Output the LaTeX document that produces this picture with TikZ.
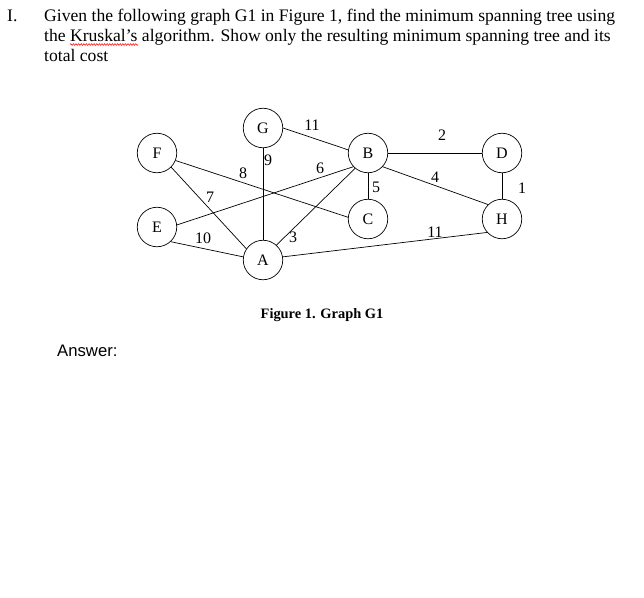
\documentclass[tikz,border=0pt]{standalone}
\usepackage{fontspec}
\setmainfont{Liberation Serif}
\newfontfamily\arialfont{Liberation Sans}
\usetikzlibrary{decorations.pathmorphing}
\begin{document}
\begin{tikzpicture}[x=1pt,y=-1pt,
  vtx/.style={draw,circle,minimum size=39.5pt,inner sep=0pt,line width=0.7pt,font=\fontsize{16}{16}\selectfont},
  lbl/.style={inner sep=0pt,font=\fontsize{16}{16}\selectfont},
  edge/.style={line width=0.7pt},
  para/.style={anchor=base west,inner sep=0pt,font=\fontsize{17.6}{20}\selectfont}]
\useasboundingbox (0,0) rectangle (644,597);
% question text
\node[para] (num) at (7,21) {I.};
\node[para] (l1) at (44,21) {Given the following graph G1 in Figure 1, find the minimum spanning tree using};
\node[para] (l2) at (44,41.7) {the Kruskal’s algorithm. Show only the resulting minimum spanning tree and its};
\node[para] (l3) at (44,61.7) {total cost};
\draw[red,line width=0.5pt,decorate,decoration={snake,amplitude=0.9pt,segment length=2.6pt}] (70,44.5) -- (138,44.5);
% vertices
\node[vtx] (G) at (263,128) {G};
\node[vtx] (F) at (157,153) {F};
\node[vtx] (B) at (368,153) {B};
\node[vtx] (E) at (157,227) {E};
\node[vtx] (C) at (368,219) {C};
\node[vtx] (A) at (263,260) {A};
\node[vtx] (D) at (502,153) {D};
\node[vtx] (H) at (502,219) {H};
% edges
\draw[edge] (F.-22) -- (C.175);
\draw[edge] (F.-45) -- (A.146);
\draw[edge] (E.6) -- (B.223);
\draw[edge] (E.-47) -- (A.171);
\draw[edge] (G.south) -- (A.north);
\draw[edge] (G.0) -- (B.171);
\draw[edge] (A.48) -- (B.230);
\draw[edge] (B.south) -- (C.north);
\draw[edge] (B.east) -- (D.west);
\draw[edge] (B.-43) -- (H.134);
\draw[edge] (D.south) -- (H.north);
\draw[edge] (A.9) -- (H.222);
% weights
\node[lbl] (wGB) at (312,125) {11};
\node[lbl] (wGA) at (268,160) {9};
\node[lbl] (wFC) at (243,173) {8};
\node[lbl] (wEB) at (320,168) {6};
\node[lbl] (wFA) at (210,197) {7};
\node[lbl] (wBC) at (376,187) {5};
\node[lbl] (wEA) at (203,238) {10};
\node[lbl] (wAB) at (293,237) {3};
\node[lbl] (wBD) at (442,135) {2};
\node[lbl] (wBH) at (435,177) {4};
\node[lbl] (wDH) at (522,188) {1};
\node[lbl] (wAH) at (435,232) {11};
% caption and answer
\node[anchor=base,inner sep=0pt,font=\fontsize{14.4}{15}\bfseries\selectfont] (cap) at (322,318) {Figure 1. Graph G1};
\node[anchor=base west,inner sep=0pt,font=\arialfont\fontsize{16.7}{18}\selectfont] (ans) at (57,356) {Answer:};
\end{tikzpicture}
\end{document}
